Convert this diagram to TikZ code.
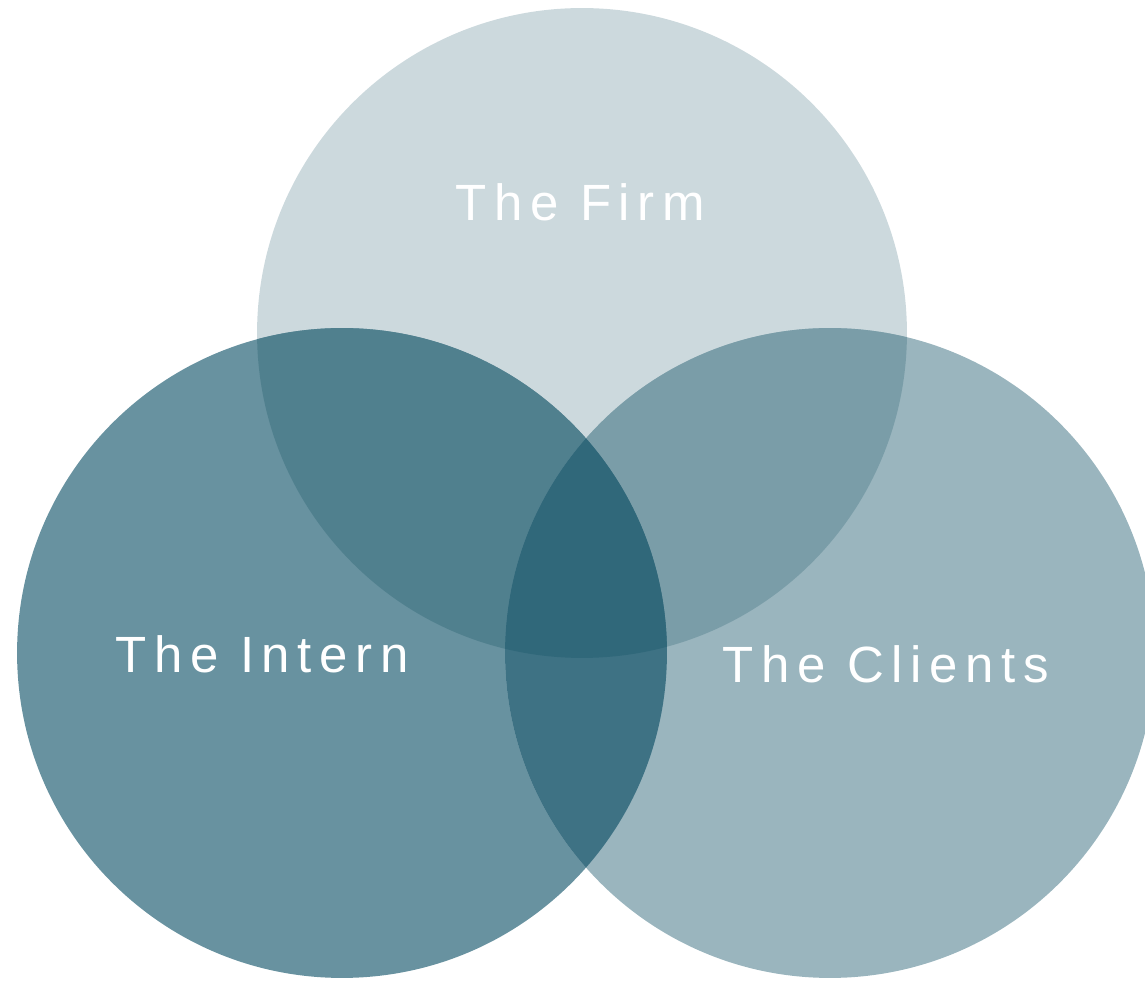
\documentclass[tikz,border=0pt]{standalone}
\usepackage{xcolor}
\usepackage{tikz}
\usepackage{fontspec}
\setmainfont{Liberation Sans}[LetterSpace=15]
\definecolor{firm}{HTML}{CCD9DD}
\definecolor{intern}{HTML}{6892A0}
\definecolor{clients}{HTML}{9AB5BE}
\definecolor{firmintern}{HTML}{50808E}
\definecolor{firmclients}{HTML}{7A9DA8}
\definecolor{internclients}{HTML}{3E7284}
\definecolor{allthree}{HTML}{30687A}

\begin{document}
\begin{tikzpicture}[
  x=0.02cm, y=0.02cm,
  circ/.style={fill=#1, draw=none},
  lbl/.style={inner sep=0pt, anchor=base west, text=white,
              font=\fontsize{29}{35}\selectfont}
]
\useasboundingbox (0,0) rectangle (1145,980);
\def\rad{6.5cm}

\coordinate (cfirm) at (582,647);
\coordinate (cintern) at (342,327);
\coordinate (cclients) at (830,327);

% Circles
\fill[circ=firm] (cfirm) circle[radius=\rad];
\fill[circ=intern] (cintern) circle[radius=\rad];
\fill[circ=clients] (cclients) circle[radius=\rad];

% Overlaps
\begin{scope}
  \clip (cfirm) circle[radius=\rad];
  \fill[circ=firmintern] (cintern) circle[radius=\rad];
  \fill[circ=firmclients] (cclients) circle[radius=\rad];
\end{scope}
\begin{scope}
  \clip (cintern) circle[radius=\rad];
  \fill[circ=internclients] (cclients) circle[radius=\rad];
  \clip (cclients) circle[radius=\rad];
  \fill[circ=allthree] (cfirm) circle[radius=\rad];
\end{scope}

% Labels
\node[lbl] (firm) at (455,759) {The Firm};
\node[lbl] (intern) at (115,307) {The Intern};
\node[lbl] (clients) at (722,297) {The Clients};

\end{tikzpicture}
\end{document}
